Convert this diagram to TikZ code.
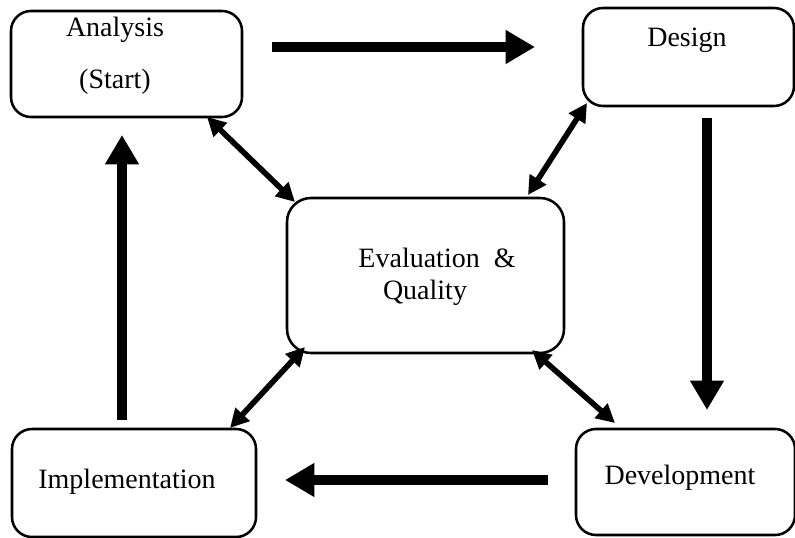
\documentclass[tikz,border=0pt]{standalone}
\usepackage{fontspec}
\setmainfont{Liberation Serif}
\usetikzlibrary{calc,arrows.meta}

\begin{document}
\begin{tikzpicture}[x=0.75pt,y=-0.75pt,
    box/.style={draw,line width=1.9pt,rounded corners=15pt,inner sep=0pt,outer sep=0pt},
    word/.style={font=\fontsize{21}{25}\selectfont,inner sep=0pt},
    bigarrow/.style={line width=7.5pt,-{Triangle[length=22pt,width=24pt]}},
    link/.style={line width=4.2pt,{Triangle[length=14pt,width=14pt]}-{Triangle[length=14pt,width=14pt]}}]
  \useasboundingbox (0,0) rectangle (795,538);
  % phases
  \node[box,minimum width=173.25pt,minimum height=79.5pt] (ana) at (126.5,64) {};
  \node[box,minimum width=158.25pt,minimum height=73.5pt] (des) at (688.5,57) {};
  \node[box,minimum width=207.75pt,minimum height=116.25pt,rounded corners=18pt] (eva) at (425.5,275.5) {};
  \node[box,minimum width=183pt,minimum height=81pt] (imp) at (134,483) {};
  \node[box,minimum width=164.25pt,minimum height=79.5pt] (dev) at (685.5,482) {};
  \node[word] (anaA) at ($(ana)+(-11.5,-34)$) {Analysis};
  \node[word] (anaB) at ($(ana)+(-11.5,18)$) {(Start)};
  \node[word] (desA) at ($(des)+(-1.5,-17)$) {Design};
  \node[word] (evaA) at ($(eva)+(11.5,-17.5)$) {Evaluation\ \ \&};
  \node[word] (evaB) at ($(eva)+(-0.5,17.5)$) {Quality};
  \node[word] (impA) at ($(imp)+(-7,-1)$) {Implementation};
  \node[word] (devA) at ($(dev)+(-5.5,-4)$) {Development};
  % the cycle
  \draw[bigarrow] ($(ana.east)+(30,-17)$) -- ($(des.west)+(-48,-10)$);
  \draw[bigarrow] ($(des.south)+(18.5,12)$) -- ($(dev.north)+(21.5,-19)$);
  \draw[bigarrow] ($(dev.west)+(-28,-2)$) -- ($(imp.east)+(29,-3)$);
  \draw[bigarrow] ($(imp.north)+(-12,-9)$) -- ($(ana.south)+(-4.5,18)$);
  % links to evaluation
  \draw[link] ($(ana.south east)+(-35,0)$) -- ($(eva.north west)+(8,4)$);
  \draw[link] ($(des.south west)+(4,-3)$) -- ($(eva.north east)+(-36,-3)$);
  \draw[link] ($(eva.south west)+(18,-6)$) -- ($(imp.north east)+(-26,-1)$);
  \draw[link] ($(eva.south east)+(-32,-3)$) -- ($(dev.north west)+(39,-6)$);
\end{tikzpicture}
\end{document}
